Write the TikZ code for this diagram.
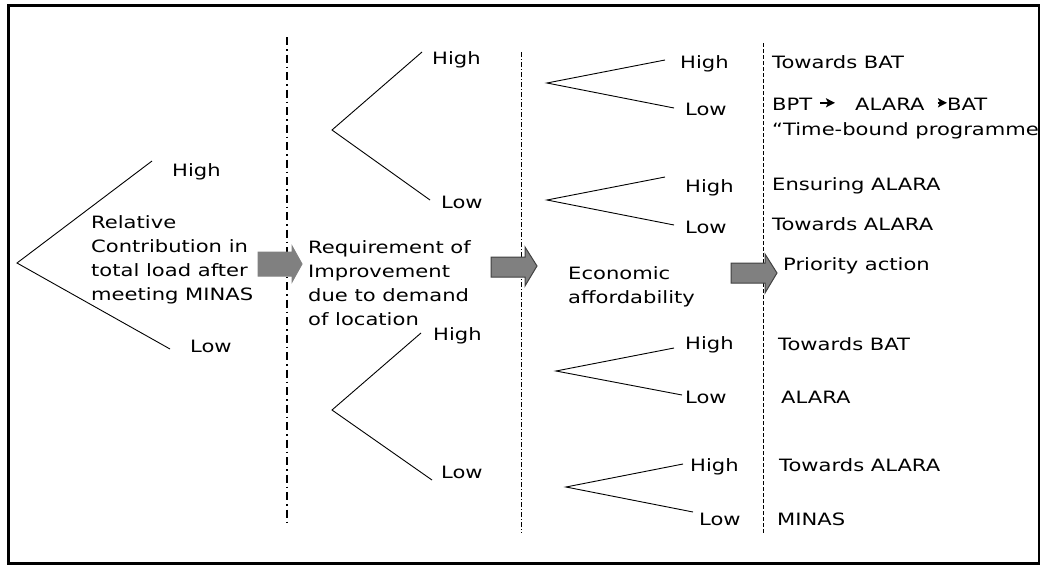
\documentclass[tikz,border=0pt]{standalone}
\usepackage{fontspec}
\setmainfont{DejaVu Sans}[FakeStretch=1.24]
\usetikzlibrary{arrows.meta}

\begin{document}
\begin{tikzpicture}[
    x=1pt, y=-1pt,
    lbl/.style={inner sep=0pt, anchor=base west, font=\fontsize{17}{24}\selectfont},
    block/.style={lbl, align=left},
    branch/.style={draw=black, line width=0.9pt},
    fatarrow/.style={fill=black!50, draw=black!75, line width=1pt},
    inarrow/.style={-{Stealth[length=9pt, width=9pt, inset=2pt]}, line width=2pt},
    septhick/.style={line width=1.8pt, dash pattern=on 8pt off 4pt on 1.5pt off 4pt},
    sepdashdot/.style={line width=0.8pt, dash pattern=on 5pt off 2pt on 1pt off 2pt},
    sepdash/.style={line width=0.8pt, dash pattern=on 4pt off 2pt}
]
\useasboundingbox (0,0) rectangle (1042,565);
\draw[line width=2.6pt] (8.5,5.5) rectangle (1039,563.5);

% column separators
\draw[septhick] (287,37) -- (287,523);
\draw[sepdashdot] (521,52) -- (521,533);
\draw[sepdash] (763,43) -- (763,533);

% Level 1: relative contribution (base = last line)
\node[block] (contrib) at (91,300) {Relative\\Contribution in\\total load after\\meeting MINAS};
\node[lbl] (c1hi) at (172,176) {High};
\node[lbl] (c1lo) at (190,352) {Low};
\coordinate (c1root) at (17,263);
\coordinate (c1up) at (152,161);
\coordinate (c1dn) at (170,349);
\draw[branch] (c1up) -- (c1root) -- (c1dn);

% Level 2: requirement of improvement
\node[block] (improve) at (308,325) {Requirement of\\Improvement\\due to demand\\of location};
\node[lbl] (c2hiA) at (432,64) {High};
\node[lbl] (c2loA) at (441,208) {Low};
\coordinate (c2rootA) at (332,130);
\coordinate (c2upA) at (422,52);
\coordinate (c2dnA) at (430,200);
\draw[branch] (c2upA) -- (c2rootA) -- (c2dnA);

\node[lbl] (c2hiB) at (433,340) {High};
\node[lbl] (c2loB) at (441,478) {Low};
\coordinate (c2rootB) at (332,410);
\coordinate (c2upB) at (421,333);
\coordinate (c2dnB) at (432,480);
\draw[branch] (c2upB) -- (c2rootB) -- (c2dnB);

% Level 3: economic affordability
\node[block] (econ) at (568,303) {Economic\\affordability};
\node[lbl] (c3hiA) at (680,68) {High};
\node[lbl] (c3loA) at (685,115) {Low};
\coordinate (c3rootA) at (547,83);
\coordinate (c3upA) at (665,60);
\coordinate (c3dnA) at (674,108);
\draw[branch] (c3upA) -- (c3rootA) -- (c3dnA);

\node[lbl] (c3hiB) at (685,192) {High};
\node[lbl] (c3loB) at (685,233) {Low};
\coordinate (c3rootB) at (547,200);
\coordinate (c3upB) at (665,177);
\coordinate (c3dnB) at (674,225);
\draw[branch] (c3upB) -- (c3rootB) -- (c3dnB);

\node[lbl] (c3hiC) at (685,349) {High};
\node[lbl] (c3loC) at (685,403) {Low};
\coordinate (c3rootC) at (556,371);
\coordinate (c3upC) at (674,348);
\coordinate (c3dnC) at (682,395);
\draw[branch] (c3upC) -- (c3rootC) -- (c3dnC);

\node[lbl] (c3hiD) at (690,471) {High};
\node[lbl] (c3loD) at (699,525) {Low};
\coordinate (c3rootD) at (566,487);
\coordinate (c3upD) at (683,464);
\coordinate (c3dnD) at (693,512);
\draw[branch] (c3upD) -- (c3rootD) -- (c3dnD);

% Level 4: priority action
\node[lbl] (towbatA) at (772,68) {Towards BAT};
\node[lbl] (bpt) at (772,110) {BPT};
\node[lbl] (alaraA) at (855,110) {ALARA};
\node[lbl] (bat) at (947,110) {BAT};
\draw[inarrow] ([xshift=8pt, yshift=1pt]bpt.east) -- ([xshift=-20pt, yshift=1pt]alaraA.west);
\draw[inarrow] ([xshift=13pt, yshift=1pt]alaraA.east) -- ([yshift=1pt]bat.west);
\node[lbl] (timebound) at (772,135) {“Time-bound programme};
\node[lbl] (ensure) at (772,190) {Ensuring ALARA};
\node[lbl] (towalaraA) at (772,230) {Towards ALARA};
\node[lbl] (priority) at (783,270) {Priority action};
\node[lbl] (towbatB) at (778,350) {Towards BAT};
\node[lbl] (alaraB) at (781,403) {ALARA};
\node[lbl] (towalaraB) at (779,471) {Towards ALARA};
\node[lbl] (minas) at (777,525) {MINAS};

% block arrows between levels
\filldraw[fatarrow, draw=black!50] (258,252) -- (292,252) -- (292,246) -- (302,264)
  -- (292,282) -- (292,276) -- (258,276) -- cycle;
\filldraw[fatarrow] (491,257) -- (525,257) -- (525,247) -- (537,266)
  -- (525,286) -- (525,277) -- (491,277) -- cycle;
\filldraw[fatarrow] (731,263) -- (765,263) -- (765,254) -- (777,273)
  -- (765,293) -- (765,283) -- (731,283) -- cycle;
\end{tikzpicture}
\end{document}
